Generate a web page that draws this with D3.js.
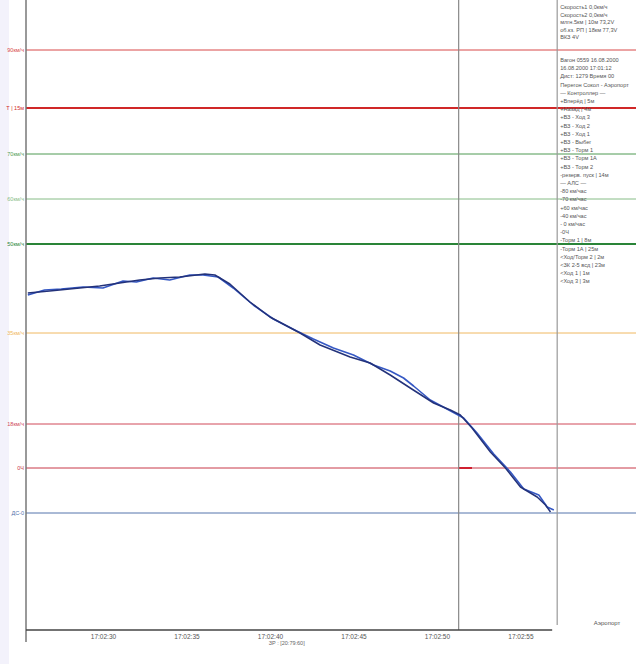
<!DOCTYPE html>
<html>
<head>
<meta charset="utf-8">
<script src="https://cdn.jsdelivr.net/npm/d3@7"></script>
<style>
  body { margin: 0; background: #fff; }
  svg { display: block; font-family: "Liberation Sans", Arial, sans-serif; }
</style>
</head>
<body>
<svg id="chart" width="636" height="664"></svg>
<script>
// seconds after 17:02:00, speed km/h
const speed1 = [[25.5,44.0],[26.8,44.4],[28.6,45.0],[29.8,45.4],[31.0,46.0],[32.2,46.6],[33.4,47.0],[34.6,47.2],[36.1,47.8],[36.7,47.6],[37.6,45.8],[38.8,42.2],[40.0,39.2],[41.8,36.0],[43.0,33.6],[44.8,31.2],[46.0,30.0],[47.2,27.6],[48.4,25.0],[49.8,22.0],[50.8,20.6],[51.4,19.6],[52.1,17.0],[53.2,12.2],[54.1,9.0],[55.0,5.2],[56.0,3.2],[56.5,1.6],[56.8,0.2]];
const speed2 = [[25.5,43.6],[26.5,44.6],[27.5,44.8],[28.8,45.2],[30.0,45.0],[31.2,46.4],[32.0,46.2],[33.0,47.0],[34.0,46.6],[35.2,47.6],[36.0,47.6],[36.9,47.2],[37.8,45.0],[39.0,41.6],[40.2,38.8],[41.6,36.4],[42.6,34.8],[43.8,33.0],[45.0,31.6],[46.2,29.6],[47.2,28.4],[48.0,27.0],[48.6,25.4],[49.6,22.6],[50.6,20.8],[51.6,19.0],[52.4,16.0],[53.4,11.8],[54.4,8.2],[55.2,4.8],[56.1,3.6],[56.6,1.2],[57.0,0.6]];

const levelValues = [92.6, 81, 71.8, 62.8, 53.8, 36, 17.8, 9, 0];
const levelLabels = ['90км/ч', 'Т | 15м', '70км/ч', '60км/ч', '50км/ч', '35км/ч', '18км/ч', '0Ч', 'ДС-0'];
const levelColors = ['#d84848', '#d02828', '#4f9a52', '#86bc86', '#2a8438', '#f0b860', '#d04858', '#c83848', '#5574ac'];
const levelWidths = [1, 1.8, 1, 1, 1.8, 1, 1, 1, 1];

const tickTimes = [30, 35, 40, 45, 50, 55];
const cursorTime = 51.3, panelTime = 57.2, axisEndTime = 56.9;

const infoTop = ['Скорость1  0,0км/ч', 'Скорость2  0,0км/ч', 'млгн.5км | 10м  73,2V', 'об.кз. РП | 18км  77,3V', 'ВКЗ  4V'];
const infoMain = ['Вагон 0559   16.08.2000', '16.08.2000 17:01:12', 'Дист: 1279   Время 00', 'Перегон Сокол - Аэропорт',
  '— Контроллер —', '+Вперёд | 5м', '+Назад | 4м', '+ВЗ - Ход 3', '+ВЗ - Ход 2', '+ВЗ - Ход 1', '+ВЗ - Выбег',
  '+ВЗ - Торм 1', '+ВЗ - Торм 1А', '+ВЗ - Торм 2', '-резерв. пуск | 14м', '— АЛС —', '-80 км/час', '-70 км/час',
  '+60 км/час', '-40 км/час', '- 0 км/час', '-0Ч', '-Торм 1 | 8м', '-Торм 1А | 25м', '<Ход/Торм 2 | 2м',
  '<ЗК 2-5 всд | 23м', '<Ход 1 | 1м', '<Ход 3 | 3м'];

const svg = d3.select('#chart');
const base = new Date(2000, 7, 16, 17, 2, 0);
const tt = s => new Date(base.getTime() + s * 1000);

const x = d3.scaleTime().domain([tt(25.39), tt(61.92)]).range([26, 636]);
const y = d3.scaleLinear().domain([-23.4, 102.6]).range([630, 0]);

// faint scan tint on the left edge
svg.append('rect').attr('x', 0).attr('y', 0).attr('width', 9).attr('height', 664).attr('fill', '#f3f2fb');

// level lines
const lv = svg.append('g');
levelValues.forEach((v, i) => {
  lv.append('line')
    .attr('x1', x(tt(25.39))).attr('x2', 636)
    .attr('y1', y(v)).attr('y2', y(v))
    .attr('stroke', levelColors[i]).attr('stroke-width', levelWidths[i]);
  lv.append('text')
    .attr('x', 24).attr('y', y(v) + 1.9)
    .attr('text-anchor', 'end')
    .attr('font-size', 5.5)
    .attr('fill', levelColors[i])
    .text(levelLabels[i]);
});

// short red mark at cursor
svg.append('line')
  .attr('x1', x(tt(cursorTime))).attr('x2', x(tt(52.1)))
  .attr('y1', y(9)).attr('y2', y(9))
  .attr('stroke', '#d02030').attr('stroke-width', 2);

// vertical lines
svg.append('line')
  .attr('x1', x(tt(25.39))).attr('x2', x(tt(25.39)))
  .attr('y1', 0).attr('y2', 642)
  .attr('stroke', '#777').attr('stroke-width', 1.5);
svg.append('line')
  .attr('x1', x(tt(cursorTime))).attr('x2', x(tt(cursorTime)))
  .attr('y1', 0).attr('y2', 630)
  .attr('stroke', '#888').attr('stroke-width', 1.2);
svg.append('line')
  .attr('x1', x(tt(panelTime))).attr('x2', x(tt(panelTime)))
  .attr('y1', 0).attr('y2', 625)
  .attr('stroke', '#999').attr('stroke-width', 1.2);

// bottom axis
svg.append('line')
  .attr('x1', x(tt(25.39))).attr('x2', x(tt(axisEndTime)))
  .attr('y1', 630).attr('y2', 630)
  .attr('stroke', '#444').attr('stroke-width', 1.5);

const axis = d3.axisBottom(x)
  .tickValues(tickTimes.map(tt))
  .tickSize(0)
  .tickFormat(d3.timeFormat('%H:%M:%S'));
const ax = svg.append('g').attr('transform', 'translate(0,630)').call(axis);
ax.select('.domain').remove();
ax.selectAll('text').attr('font-size', 6.5).attr('fill', '#555').attr('dy', '0.9em')
  .attr('font-family', '"Liberation Sans", Arial, sans-serif');

svg.append('text').attr('x', x(tt(41))).attr('y', 645).attr('text-anchor', 'middle')
  .attr('font-size', 5.5).attr('fill', '#666').text('ЗР :  [20:79:60]');
svg.append('text').attr('x', 607).attr('y', 625).attr('text-anchor', 'middle')
  .attr('font-size', 6).attr('fill', '#555').text('Аэропорт');

// speed curves
const line = d3.line()
  .x(d => x(tt(d[0])))
  .y(d => y(d[1]));
svg.append('path').datum(speed2).attr('d', line)
  .attr('fill', 'none').attr('stroke', '#3558c4').attr('stroke-width', 1.6)
  .attr('stroke-linejoin', 'round');
svg.append('path').datum(speed1).attr('d', line)
  .attr('fill', 'none').attr('stroke', '#23327a').attr('stroke-width', 1.5)
  .attr('stroke-linejoin', 'round');

// info panel
const px = x(tt(panelTime)) + 3;
const info = svg.append('g').attr('font-size', 5.6).attr('fill', '#555');
infoTop.forEach((s, i) => info.append('text').attr('x', px).attr('y', 9 + i * 7.6).text(s));
infoMain.forEach((s, i) => info.append('text').attr('x', px).attr('y', 62 + i * 8.2).text(s));
</script>
</body>
</html>
